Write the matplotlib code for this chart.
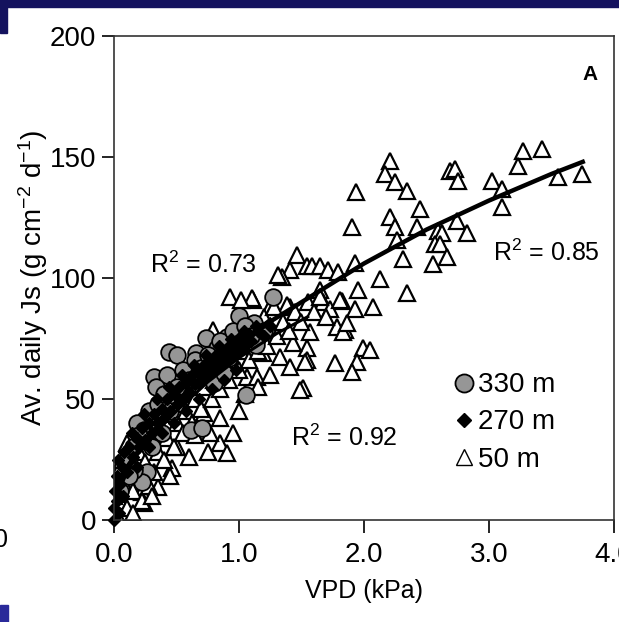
import numpy as np
import matplotlib.pyplot as plt
from matplotlib.patches import Rectangle
from matplotlib.lines import Line2D

plt.rcParams['font.family'] = ['Liberation Sans', 'DejaVu Sans']
plt.rcParams['mathtext.fontset'] = 'custom'
plt.rcParams['mathtext.rm'] = 'Liberation Sans'
plt.rcParams['mathtext.it'] = 'Liberation Sans:italic'

# 50 m site (triangles)
vpd_50 = [2.208, 2.168, 2.248, 2.344, 2.448, 2.208, 2.248, 2.424, 2.264, 2.312, 2.128, 2.344,
          2.688, 2.728, 2.752, 2.592, 2.624, 2.568, 2.608, 2.664, 2.552, 2.744, 2.824, 3.024,
          3.104, 3.104, 3.272, 3.424, 3.232, 3.552, 3.744,
          1.936, 1.904, 1.464, 1.408, 1.544, 1.584, 1.648, 1.712, 1.792, 1.928, 1.344, 1.952,
          1.648, 1.824, 2.072, 1.928, 1.672, 1.728, 1.408, 1.784, 1.848, 1.568,
          1.992, 2.048, 1.944, 1.904, 1.768, 1.544, 1.544, 1.512, 1.832, 1.864,
          1.312, 1.112, 1.248, 1.384, 1.432, 1.328, 1.528, 1.408, 1.808,
          0.928, 1.104, 0.792, 1.192, 1.488, 0.952, 0.848, 0.904, 0.768, 0.464, 0.352, 0.224,
          0.104, 1.016, 1.064, 1.144, 0.720, 0.504, 0.240,
          0.05, 0.08, 0.10, 0.12, 0.15, 0.18, 0.20, 0.22, 0.25, 0.28, 0.30, 0.32, 0.35, 0.38,
          0.40, 0.42, 0.45, 0.48, 0.50, 0.52, 0.55, 0.58, 0.60, 0.62, 0.65, 0.68, 0.70, 0.72,
          0.75, 0.78, 0.80, 0.82, 0.85, 0.88, 0.90, 0.92, 0.95, 0.98, 1.00, 1.02, 1.05, 1.08,
          1.10, 1.12, 1.15, 1.18, 1.20, 1.22, 1.25, 1.28, 1.30, 1.35, 1.40, 1.45, 1.50, 1.55,
          1.60, 1.65, 1.70, 0.02, 0.00, 0.03, 0.06, 0.15, 0.30, 0.45, 0.60, 0.65, 0.75, 0.85,
          1.00, 1.05, 1.15, 1.25]
js_50 = [148.2, 142.9, 139.5, 135.8, 128.4, 125.1, 120.9, 120.9, 115.9, 107.7, 99.4, 94.0,
         144.1, 144.9, 140.0, 119.3, 118.8, 113.9, 113.9, 108.5, 105.6, 123.4, 118.8, 140.0,
         136.6, 129.2, 152.4, 153.2, 146.2, 141.6, 142.9,
         135.4, 120.9, 109.7, 103.5, 104.8, 104.8, 104.8, 103.5, 102.3, 106.4, 100.6, 95.2,
         95.2, 90.3, 88.2, 87.0, 89.9, 87.0, 88.2, 79.9, 78.7, 77.8,
         71.2, 70.4, 65.4, 61.3, 65.0, 71.2, 66.3, 54.7, 77.8, 81.6,
         101.4, 91.1, 88.2, 89.0, 73.3, 67.5, 65.4, 63.4, 91.1,
         92.3, 91.9, 78.7, 69.2, 53.8, 36.0, 31.9, 27.7, 36.0, 21.5, 13.7, 11.6,
         31.9, 91.1, 59.2, 59.2, 44.3, 30.2, 7.0,
         8, 15, 5, 22, 12, 18, 28, 8, 24, 14, 33, 20, 28, 38,
         25, 34, 44, 30, 40, 48, 36, 45, 52, 40, 50, 58, 46, 55,
         62, 50, 58, 66, 54, 62, 70, 58, 66, 74, 62, 70, 78, 66,
         74, 80, 70, 76, 84, 72, 80, 88, 76, 82, 78, 86, 82, 90,
         86, 92, 84, 2, 10, 20, 25, 3, 10, 18, 26, 35, 28, 42,
         45, 52, 55, 60]

# 330 m site (grey circles)
vpd_330 = [1.000, 1.120, 0.736, 0.440, 0.504, 0.656, 0.320, 0.424, 0.336, 0.824, 0.920, 1.056,
           0.184, 0.240, 0.616, 0.704, 0.264, 0.224, 0.160, 0.800, 0.904, 1.136, 0.880, 1.272,
           0.05, 0.10, 0.15, 0.20, 0.28, 0.35, 0.40, 0.50, 0.55, 0.60, 0.65, 0.70, 0.75, 0.85,
           0.95, 1.05, 1.10, 1.20, 0.45, 0.38, 0.12, 0.30]
js_330 = [84.1, 81.6, 75.4, 69.6, 68.3, 69.2, 59.2, 60.0, 55.1, 71.2, 67.1, 51.8,
          40.2, 37.3, 37.3, 38.1, 19.9, 15.7, 20.7, 56.7, 75.8, 72.5, 60.9, 92.3,
          12, 25, 30, 35, 45, 48, 52, 55, 62, 58, 66, 63, 68, 74,
          78, 80, 76, 78, 45, 36, 18, 30]

# 270 m site (black diamonds)
vpd_270 = [0.00, 0.00, 0.01, 0.02, 0.03, 0.05, 0.06, 0.08, 0.10, 0.12, 0.15, 0.18, 0.20, 0.22,
           0.25, 0.28, 0.30, 0.32, 0.35, 0.38, 0.40, 0.42, 0.45, 0.48, 0.50, 0.52, 0.55, 0.58,
           0.60, 0.62, 0.65, 0.68, 0.70, 0.72, 0.75, 0.78, 0.80, 0.82, 0.85, 0.88, 0.90, 0.92,
           0.95, 0.98, 1.00, 1.02, 1.05, 1.08, 1.10, 1.15, 1.20, 1.25, 0.02, 0.04, 0.07,
           0.14, 0.24, 0.34, 0.44, 0.54, 0.64, 0.74, 0.84, 0.94, 1.04, 1.14,
           0.18, 0.28, 0.38, 0.48, 0.58, 0.68, 0.78, 0.88, 0.98]
js_270 = [0, 5, 12, 18, 25, 15, 22, 28, 20, 30, 26, 34, 30, 38,
          33, 40, 36, 44, 40, 46, 42, 50, 45, 52, 48, 55, 50, 57,
          53, 60, 56, 62, 58, 64, 60, 66, 62, 68, 64, 70, 66, 72,
          68, 74, 70, 76, 72, 77, 74, 78, 76, 80, 8, 3, 10,
          36, 44, 50, 55, 60, 64, 68, 72, 75, 78, 80,
          22, 30, 36, 40, 45, 50, 54, 58, 62]

# fitted curves
fit50_x = [0.0, 0.05, 0.1, 0.25, 0.5, 0.75, 1.0, 1.25, 1.5, 2.0, 2.5, 3.0, 3.5, 3.75]
fit50_y = [4, 14, 20, 33, 48, 61, 72, 82, 90, 106, 120, 132, 143, 148]
fit330_x = [0.0, 0.05, 0.1, 0.25, 0.5, 0.75, 1.0, 1.25]
fit330_y = [12, 17, 22, 33, 48, 62, 73, 83]
fit270_x = [0.0, 0.05, 0.1, 0.25, 0.5, 0.75, 1.0, 1.3, 1.55]
fit270_y = [15, 18, 22, 32, 45, 57, 67, 77, 84]

xticks = [0, 1, 2, 3, 4]
xtick_labels = ['0.0', '1.0', '2.0', '3.0', '4.0']
yticks = [0, 50, 100, 150, 200]

fig = plt.figure(figsize=(6.19, 6.22), dpi=100)
ax = fig.add_axes([114 / 619, 1 - 520 / 622, 500 / 619, 484 / 622])

ax.plot(vpd_50, js_50, linestyle='none', marker='^', markersize=11, mfc='white',
        mec='black', mew=1.6)
ax.plot(vpd_330, js_330, linestyle='none', marker='o', markersize=12, mfc='#969696',
        mec='black', mew=1.3)
ax.plot(vpd_270, js_270, linestyle='none', marker='D', markersize=6.5, mfc='black',
        mec='black', clip_on=False)
ax.plot(fit330_x, fit330_y, color='black', lw=2.2)
ax.plot(fit270_x, fit270_y, color='black', lw=2.2)
ax.plot(fit50_x, fit50_y, color='black', lw=3.2)

ax.set_xlim(0, 4)
ax.set_ylim(0, 200)
ax.set_xticks(xticks)
ax.set_xticklabels(xtick_labels)
ax.set_yticks(yticks)
ax.tick_params(labelsize=20, length=9, width=1.2, direction='out', pad=4)
ax.tick_params(axis='x', pad=7)
for s in ax.spines.values():
    s.set_linewidth(1.2)
    s.set_color('#333333')

ax.set_xlabel('VPD (kPa)', fontsize=18, labelpad=8)
ax.set_ylabel('Av. daily Js (g cm$^{-2}$ d$^{-1}$)', fontsize=20)
ax.yaxis.set_label_coords(-0.128, 0.5)

ax.text(3.81, 184, 'A', fontsize=15, fontweight='bold', ha='center', va='center')
ax.text(0.29, 105.6, 'R$^2$ = 0.73', fontsize=18, va='center')
ax.text(3.03, 110.6, 'R$^2$ = 0.85', fontsize=18, va='center')
ax.text(1.42, 34, 'R$^2$ = 0.92', fontsize=18, va='center')

handles = [Line2D([], [], ls='none', marker='o', ms=13, mfc='#969696', mec='black', mew=1.3),
           Line2D([], [], ls='none', marker='D', ms=7, mfc='black', mec='black'),
           Line2D([], [], ls='none', marker='^', ms=12, mfc='white', mec='black', mew=1.0)]
ax.legend(handles, ['330 m', '270 m', '50 m'], loc='lower right', bbox_to_anchor=(0.905, 0.075),
          borderaxespad=0, frameon=False, fontsize=20, handletextpad=0.0, handlelength=1.0,
          labelspacing=0.4)

# slide decorations around the figure
navy = '#14125e'
fig.patches.append(Rectangle((0, 1 - 7 / 622), 1, 7 / 622, transform=fig.transFigure,
                             color=navy, zorder=0))
fig.patches.append(Rectangle((0, 1 - 33 / 622), 7 / 619, 33 / 622, transform=fig.transFigure,
                             color=navy, zorder=0))
fig.patches.append(Rectangle((0, 0), 8 / 619, 17 / 622, transform=fig.transFigure,
                             color='#2a2a9a', zorder=0))
fig.text(-6 / 619, 1 - 540 / 622, '0', fontsize=18, va='center')

fig.savefig('out.png', dpi=100)
